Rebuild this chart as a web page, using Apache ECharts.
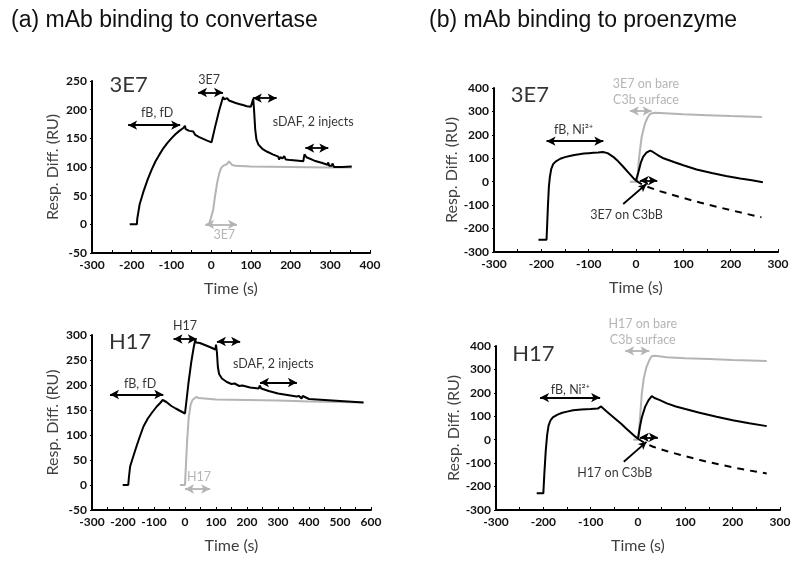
<!DOCTYPE html>
<html><head><meta charset="utf-8">
<script src="https://cdn.jsdelivr.net/npm/echarts@6/dist/echarts.min.js"></script>
<style>html,body{margin:0;padding:0;background:#fff}#c{width:800px;height:567px}</style>
</head><body><div id="c"></div>
<script>
// ---- Data (time s, response RU) ----
const convA_3E7_black = [[-205,0],[-187,0],[-186,10],[-180,35],[-170,58],[-160,78],[-150,95],[-140,110],[-130,122],[-120,133],[-110,142],[-100,150],[-90,157],[-80,163],[-70,168],[-66,172],[-64,166],[-55,163],[-50,160],[-45,162],[-40,156],[-30,152],[-20,149],[-10,146],[1,143],[10,170],[20,198],[30,222],[33,218],[40,220],[45,216],[50,218],[60,212],[70,210],[80,208],[90,206],[100,205],[104,204],[106,219],[108,200],[111,165],[114,148],[119,139],[130,131],[140,127],[155,122],[169,118],[171,113],[174,117],[180,115],[184,119],[188,113],[200,112],[220,111],[232,110],[235,122],[240,117],[260,111],[280,107],[293,104],[295,108],[297,102],[303,102],[306,106],[309,100],[330,100],[354,101]];
const convA_3E7_gray = [[-5,0],[0,0],[5,25],[10,50],[15,72],[20,88],[25,98],[30,102],[35,101],[40,105],[45,110],[48,108],[52,104],[55,101],[60,102],[100,101],[200,100],[300,99],[354,99]];
const proB_3E7_black = [[-206,-248],[-189,-248],[-188,-200],[-186,-100],[-184,-20],[-182,20],[-179,55],[-175,75],[-170,86],[-160,98],[-150,105],[-140,110],[-130,114],[-120,117],[-110,120],[-100,122],[-90,124],[-80,125],[-70,127],[-67,133],[-60,122],[-48,106],[-40,92],[-27,64],[-15,37],[-5,14],[0,5],[3,2],[5,40],[10,80],[15,106],[22,124],[30,133],[35,128],[45,115],[58,100],[80,84],[100,70],[128,52],[160,37],[190,24],[220,14],[245,6],[268,-2]];
const proB_3E7_dashed = [[0,5],[10,-8],[23,-21],[50,-40],[80,-58],[110,-75],[135,-89],[170,-107],[200,-121],[235,-138],[265,-152]];
const proB_3E7_gray = [[-13,0],[2,0],[4,40],[6,92],[9,145],[12,191],[16,225],[19,248],[24,272],[30,290],[40,294],[51,293],[100,288],[150,284],[200,280],[266,276]];
const convC_H17_black = [[-201,0],[-183,0],[-181,15],[-177,37],[-167,57],[-155,80],[-145,98],[-134,117],[-120,133],[-105,146],[-91,157],[-80,164],[-72,170],[-69,167],[-60,166],[-52,162],[-48,164],[-44,158],[-30,153],[-15,148],[0,143],[5,170],[11,203],[20,245],[28,275],[33,290],[36,285],[42,288],[48,284],[60,281],[80,276],[98,271],[100,281],[103,265],[106,236],[110,222],[119,213],[135,206],[150,202],[155,198],[160,203],[165,199],[175,198],[180,195],[185,199],[190,196],[210,195],[238,193],[241,199],[246,193],[270,188],[300,183],[340,179],[360,177],[364,174],[368,178],[372,175],[376,173],[380,178],[384,174],[400,172],[450,170],[500,168],[576,165]];
const convC_H17_gray = [[-16,0],[0,0],[3,40],[7,90],[12,135],[18,160],[24,170],[30,172],[36,176],[40,178],[44,174],[50,172],[100,171],[200,170],[300,169],[400,167],[500,166],[576,165]];
const proD_H17_black = [[-214,-229],[-200,-229],[-198,-150],[-195,-50],[-192,20],[-189,60],[-185,82],[-180,95],[-170,107],[-160,115],[-150,120],[-137,126],[-120,129],[-100,131],[-85,133],[-78,142],[-75,134],[-65,118],[-55,101],[-45,84],[-35,67],[-25,48],[-15,30],[-5,12],[0,4],[4,55],[8,95],[15,140],[22,168],[29,186],[35,178],[45,170],[61,155],[80,142],[100,131],[130,115],[166,98],[200,83],[235,70],[272,58]];
const proD_H17_dashed = [[0,4],[15,-15],[32,-30],[60,-48],[90,-65],[131,-87],[170,-105],[210,-122],[245,-135],[272,-144]];
const proD_H17_gray = [[-10,0],[0,0],[3,60],[6,140],[8,197],[12,260],[18,311],[24,340],[29,356],[35,358],[45,356],[60,352],[100,348],[150,344],[200,340],[272,336]];

// injection arrows: [tStart, tEnd, level]
const arrowsA_black = [[-209,-78,173],[-33,30,230],[105,165,220],[237,295,133]];
const arrowsA_gray = [[-15,65,0]];
const arrowsB_black = [[-189,-69,173],[8,45,5]];
const arrowsB_gray = [[-13,33,302]];
const arrowsC_black = [[-242,-70,181],[-37,38,292],[103,178,287],[242,361,205]];
const arrowsC_gray = [[0,81,-8]];
const arrowsD_black = [[-207,-80,180],[4,42,10]];
const arrowsD_gray = [[-27,24,379]];
const pointerB = [[-27,-95],[22,-10]];
const pointerD = [[-30,-94],[18,-9]];

// annotations: [text, t, value, kind]
const textsA = [['3E7',-208,243,'big'],['fB, fD',-136,194,'k'],['3E7',-5,252,'k'],['sDAF, 2 injects',257,179,'k'],['3E7',33,-19,'g']];
const textsB = [['3E7',-224,369,'big'],['fB, Ni²⁺',-132,220,'k'],['3E7 on bare',21,418,'g'],['C3b surface',21,347,'g'],['3E7 on C3bB',-20,-142,'k']];
const textsC = [['H17',-177,287,'big'],['fB, fD',-145,203,'k'],['H17',0,318,'k'],['sDAF, 2 injects',285,243,'k'],['H17',45,17,'g']];
const textsD = [['H17',-221,368,'big'],['fB, Ni²⁺',-143,211,'k'],['H17 on bare',10,495,'g'],['C3b surface',10,424,'g'],['H17 on C3bB',-49,-144,'k']];

const xRanges = [[-300,400],[-300,300],[-300,600],[-300,300]];
const yRanges = [[-50,250,50],[-300,400,100],[-50,300,50],[-300,400,100]];

const BLACK = '#000', GRAY = '#b4b4b4', GRAYTXT = '#a3a3a3';
const FONT = 'Lato, "Open Sans", sans-serif';

function xAx(i){
  return {type:'value', gridIndex:i, min:xRanges[i][0], max:xRanges[i][1], interval:50,
    axisLine:{show:true,onZero:false,lineStyle:{color:'#000',width:2}},
    axisTick:{show:true,inside:true,length:3,lineStyle:{color:'#000',width:1}},
    splitLine:{show:false},
    axisLabel:{formatter:v=> (v%100===0?String(v):''), color:'#111', fontFamily:FONT, fontWeight:'bold', fontSize:12, margin:6},
    name:'Time (s)', nameLocation:'middle', nameGap:28,
    nameTextStyle:{fontFamily:FONT,fontSize:16,color:'#404040'}};
}
function yAx(i){
  return {type:'value', gridIndex:i, min:yRanges[i][0], max:yRanges[i][1], interval:yRanges[i][2],
    axisLine:{show:true,onZero:false,lineStyle:{color:'#000',width:2}},
    axisTick:{show:true,length:2,lineStyle:{color:'#000'}},
    splitLine:{show:false},
    axisLabel:{color:'#111', fontFamily:FONT, fontWeight:'bold', fontSize:12, margin:5},
    name:'Resp. Diff. (RU)', nameLocation:'middle', nameGap:31, nameRotate:90,
    nameTextStyle:{fontFamily:FONT,fontSize:16,color:'#404040'}};
}
function arrowML(list,color){
  return {silent:true, animation:false, symbol:['arrow','arrow'], symbolSize:[7,9], precision:5,
    label:{show:false}, emphasis:{disabled:true},
    lineStyle:{color:color,width:1.8,type:'solid'},
    data:list.map(a=>[{coord:[a[0],a[2]]},{coord:[a[1],a[2]]}])};
}
function lineS(i,data,color,dashed,ml){
  const s={type:'line', xAxisIndex:i, yAxisIndex:i, data:data, showSymbol:false, symbol:'none', silent:true,
    lineStyle:{color:color,width:2,type:dashed?[7,6]:'solid'}, animation:false, z:3};
  if(ml) s.markLine=ml;
  return s;
}
function textS(i,items){
  return {type:'scatter', xAxisIndex:i, yAxisIndex:i, symbolSize:0, silent:true, clip:false, animation:false, z:10,
    data:items.map(it=>({value:[it[1],it[2]], label:{show:true, position:'inside', formatter:it[0],
      fontFamily:FONT, fontSize: it[3]==='big'?22:12.5, color: it[3]==='g'?GRAYTXT:'#000'}}))};
}
function pointerS(i,p){
  return {type:'line', xAxisIndex:i, yAxisIndex:i, data:[], silent:true, animation:false,
    markLine:{silent:true, animation:false, label:{show:false}, symbolSize:[6,8],
      lineStyle:{color:BLACK,width:1.8,type:'solid',curveness:-0.45},
      data:[[{coord:p[0],symbol:'none'},{coord:p[1],symbol:'arrow'}]]}};
}

const chart = echarts.init(document.getElementById('c'), null, {renderer:'canvas'});
chart.setOption({
  animation:false,
  backgroundColor:'#fff',
  title:[
    {text:'(a) mAb binding to convertase', left:6, top:4, textStyle:{fontFamily:'"Liberation Sans", Arial, sans-serif', fontSize:23, fontWeight:'normal', color:'#111'}},
    {text:'(b) mAb binding to proenzyme', left:424, top:4, textStyle:{fontFamily:'"Liberation Sans", Arial, sans-serif', fontSize:23, fontWeight:'normal', color:'#111'}}
  ],
  grid:[
    {left:92, top:81, width:278, height:172},
    {left:494, top:88, width:284, height:164},
    {left:92, top:335, width:279, height:175},
    {left:496, top:346, width:284, height:164}
  ],
  xAxis:[xAx(0),xAx(1),xAx(2),xAx(3)],
  yAxis:[yAx(0),yAx(1),yAx(2),yAx(3)],
  series:[
    lineS(0,convA_3E7_gray,GRAY,false,arrowML(arrowsA_gray,GRAY)),
    lineS(0,convA_3E7_black,BLACK,false,arrowML(arrowsA_black,BLACK)),
    textS(0,textsA),
    lineS(1,proB_3E7_gray,GRAY,false,arrowML(arrowsB_gray,GRAY)),
    lineS(1,proB_3E7_dashed,BLACK,true),
    lineS(1,proB_3E7_black,BLACK,false,arrowML(arrowsB_black,BLACK)),
    pointerS(1,pointerB),
    textS(1,textsB),
    lineS(2,convC_H17_gray,GRAY,false,arrowML(arrowsC_gray,GRAY)),
    lineS(2,convC_H17_black,BLACK,false,arrowML(arrowsC_black,BLACK)),
    textS(2,textsC),
    lineS(3,proD_H17_gray,GRAY,false,arrowML(arrowsD_gray,GRAY)),
    lineS(3,proD_H17_dashed,BLACK,true),
    lineS(3,proD_H17_black,BLACK,false,arrowML(arrowsD_black,BLACK)),
    pointerS(3,pointerD),
    textS(3,textsD)
  ]
});
</script></body></html>
